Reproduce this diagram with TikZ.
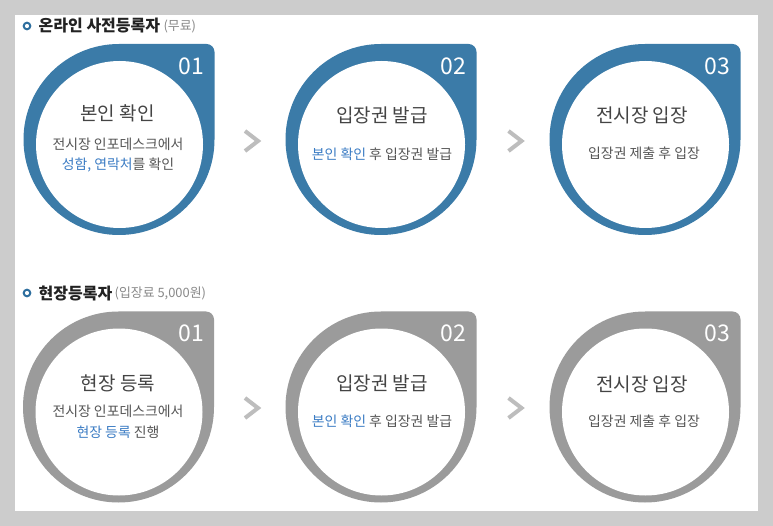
\documentclass[tikz,border=0pt]{standalone}
\usepackage{fontspec}
\setmainfont{Noto Sans CJK KR}
\usetikzlibrary{calc}
\definecolor{bggray}{HTML}{CCCCCC}
\definecolor{ringblue}{HTML}{3B7BA8}
\definecolor{ringgray}{HTML}{9B9B9B}
\definecolor{chev}{HTML}{BDBDBD}
\definecolor{hlblue}{HTML}{3B7CC4}
\definecolor{titlec}{HTML}{444444}
\definecolor{subc}{HTML}{555555}
\definecolor{headc}{HTML}{222222}
\definecolor{parenc}{HTML}{888888}
\definecolor{markc}{HTML}{2D6E9E}
\tikzset{
  numtext/.style={text=white,font=\fontsize{23}{23}\selectfont,inner sep=0pt},
  titletext/.style={text=titlec,font=\fontsize{19}{19}\selectfont,inner sep=0pt},
  subtext/.style={text=subc,font=\fontsize{13.9}{13.9}\selectfont,inner sep=0pt},
  headtext/.style={text=headc,font=\fontsize{16}{16}\selectfont\bfseries,inner sep=0pt,anchor=west},
  parentext/.style={text=parenc,font=\fontsize{12.9}{12.9}\selectfont,inner sep=0pt,anchor=west},
  chevline/.style={draw=chev,line width=4pt,line cap=butt,line join=miter},
  shapeanchor/.style={circle,minimum size=191pt,inner sep=0pt,draw=none}
}
\newcommand\hl[1]{\textcolor{hlblue}{#1}}
% #1 name, #2 cx, #3 cy, #4 colour, #5 number
\newcommand\dropshape[5]{%
  \fill[#4] (#2,#3-95.5) -- (#2+87.5,#3-95.5) arc[start angle=90,end angle=0,radius=8pt]
     -- (#2+95.5,#3) arc[start angle=0,end angle=-270,radius=95.5pt] -- cycle;
  \fill[white] (#2+0.5,#3+5) circle[radius=83.5pt];
  \node[shapeanchor] (#1) at (#2,#3) {};
  \node[numtext] (#1num) at (#2+72.5,#3-73.5) {#5};
}
\begin{document}
\begin{tikzpicture}[x=1pt,y=-1pt]
\fill[bggray] (0,0) rectangle (773,526);
\fill[white] (15,15) rectangle (758,510.5);
\useasboundingbox (0,0) rectangle (773,526);

% headers
\draw[markc,line width=2pt,fill=white] (27,26) circle[radius=3.3pt];
\node[headtext] (h1) at (38.5,26) {온라인 사전등록자};
\node[parentext] (h1p) at ($(h1.east)+(3,0.5)$) {(무료)};
\draw[markc,line width=2pt,fill=white] (27,293) circle[radius=3.3pt];
\node[headtext] (h2) at (38.5,293) {현장등록자};
\node[parentext] (h2p) at ($(h2.east)+(2,0.5)$) {(입장료 5,000원)};

% row 1
\dropshape{a1}{119}{139.5}{ringblue}{01}
\dropshape{a2}{381}{139.5}{ringblue}{02}
\dropshape{a3}{645}{139.5}{ringblue}{03}
\node[titletext] (a1t) at (117.5,113.5) {본인 확인};
\node[subtext] (a1s1) at (118,144) {전시장 인포데스크에서};
\node[subtext] (a1s2) at (118,165.5) {\hl{성함, 연락처}를 확인};
\node[titletext] (a2t) at (382,115) {입장권 발급};
\node[subtext] (a2s) at (382,154) {\hl{본인 확인} 후 입장권 발급};
\node[titletext] (a3t) at (642,115) {전시장 입장};
\node[subtext] (a3s) at (644,153) {입장권 제출 후 입장};

% row 2
\dropshape{b1}{118.5}{407}{ringgray}{01}
\dropshape{b2}{381}{407}{ringgray}{02}
\dropshape{b3}{645}{407}{ringgray}{03}
\node[titletext] (b1t) at (118,383.5) {현장 등록};
\node[subtext] (b1s1) at (118,411) {전시장 인포데스크에서};
\node[subtext] (b1s2) at (118,432) {\hl{현장 등록} 진행};
\node[titletext] (b2t) at (382,383) {입장권 발급};
\node[subtext] (b2s) at (382,421) {\hl{본인 확인} 후 입장권 발급};
\node[titletext] (b3t) at (642,384) {전시장 입장};
\node[subtext] (b3s) at (644,421) {입장권 제출 후 입장};

% chevrons
\draw[chevline] (245,131) -- (258,141) -- (245,151);
\draw[chevline] (508.5,131) -- (521.5,141) -- (508.5,151);
\draw[chevline] (245,398) -- (258,408) -- (245,418);
\draw[chevline] (508.5,398) -- (521.5,408) -- (508.5,418);
\end{tikzpicture}
\end{document}
